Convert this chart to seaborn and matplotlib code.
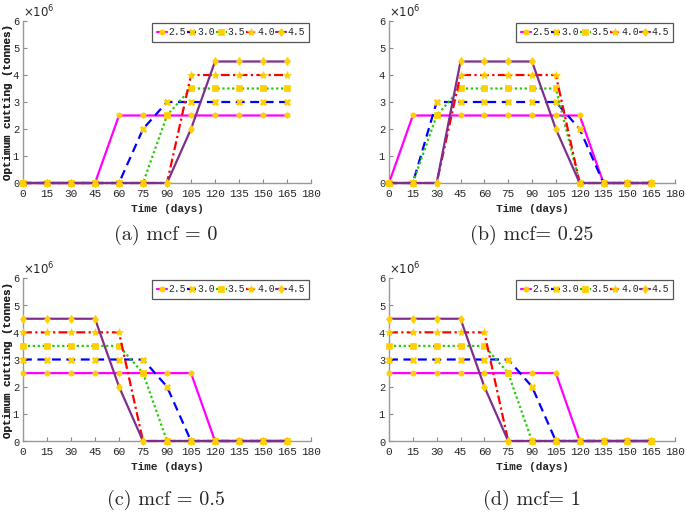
import numpy as np
import pandas as pd
import matplotlib
matplotlib.use("Agg")
import matplotlib.pyplot as plt
import seaborn as sns

# time axis (days) shared by every panel
days = [0, 15, 30, 45, 60, 75, 90, 105, 120, 135, 150, 165]
series_names = ["2.5", "3.0", "3.5", "4.0", "4.5"]

# optimum cutting, in millions of tonnes
mcf_0 = {
    "2.5": [0, 0, 0, 0, 2.5, 2.5, 2.5, 2.5, 2.5, 2.5, 2.5, 2.5],
    "3.0": [0, 0, 0, 0, 0, 2.0, 3.0, 3.0, 3.0, 3.0, 3.0, 3.0],
    "3.5": [0, 0, 0, 0, 0, 0, 2.5, 3.5, 3.5, 3.5, 3.5, 3.5],
    "4.0": [0, 0, 0, 0, 0, 0, 0, 4.0, 4.0, 4.0, 4.0, 4.0],
    "4.5": [0, 0, 0, 0, 0, 0, 0, 2.0, 4.5, 4.5, 4.5, 4.5],
}
mcf_025 = {
    "2.5": [0, 2.5, 2.5, 2.5, 2.5, 2.5, 2.5, 2.5, 2.5, 0, 0, 0],
    "3.0": [0, 0, 3.0, 3.0, 3.0, 3.0, 3.0, 3.0, 2.0, 0, 0, 0],
    "3.5": [0, 0, 2.5, 3.5, 3.5, 3.5, 3.5, 3.5, 0, 0, 0, 0],
    "4.0": [0, 0, 0, 4.0, 4.0, 4.0, 4.0, 4.0, 0, 0, 0, 0],
    "4.5": [0, 0, 0, 4.5, 4.5, 4.5, 4.5, 2.0, 0, 0, 0, 0],
}
mcf_05 = {
    "2.5": [2.5, 2.5, 2.5, 2.5, 2.5, 2.5, 2.5, 2.5, 0, 0, 0, 0],
    "3.0": [3.0, 3.0, 3.0, 3.0, 3.0, 3.0, 2.0, 0, 0, 0, 0, 0],
    "3.5": [3.5, 3.5, 3.5, 3.5, 3.5, 2.5, 0, 0, 0, 0, 0, 0],
    "4.0": [4.0, 4.0, 4.0, 4.0, 4.0, 0, 0, 0, 0, 0, 0, 0],
    "4.5": [4.5, 4.5, 4.5, 4.5, 2.0, 0, 0, 0, 0, 0, 0, 0],
}
mcf_1 = {
    "2.5": [2.5, 2.5, 2.5, 2.5, 2.5, 2.5, 2.5, 2.5, 0, 0, 0, 0],
    "3.0": [3.0, 3.0, 3.0, 3.0, 3.0, 3.0, 2.0, 0, 0, 0, 0, 0],
    "3.5": [3.5, 3.5, 3.5, 3.5, 3.5, 2.5, 0, 0, 0, 0, 0, 0],
    "4.0": [4.0, 4.0, 4.0, 4.0, 4.0, 0, 0, 0, 0, 0, 0, 0],
    "4.5": [4.5, 4.5, 4.5, 4.5, 2.0, 0, 0, 0, 0, 0, 0, 0],
}
panels = [mcf_0, mcf_025, mcf_05, mcf_1]
captions = ["(a) mcf = 0", "(b) mcf= 0.25", "(c) mcf = 0.5", "(d) mcf= 1"]

colors = {"2.5": "#ff00ff", "3.0": "#0000ff", "3.5": "#22cc00",
          "4.0": "#ff0000", "4.5": "#7e2f8e"}
styles = {"2.5": "-", "3.0": (0, (4, 2.5)), "3.5": (0, (1, 1.2)),
          "4.0": (0, (4, 1.5, 1, 1.5)), "4.5": "-"}
markers = {"2.5": "o", "3.0": "X", "3.5": "s", "4.0": "*", "4.5": "d"}
msizes = {"2.5": 3.8, "3.0": 4.5, "3.5": 3.8, "4.0": 6, "4.5": 4.5}
gold = "#ffd000"

sns.set_theme(style="ticks")
plt.rcParams["font.family"] = ["Liberation Mono", "DejaVu Sans"]

fig = plt.figure(figsize=(6.85, 5.13), dpi=100)
W, H = 685, 513
boxes = [(23, 21, 311, 183), (389, 21, 675, 183),
         (23, 278, 311, 441), (389, 278, 675, 441)]
cap_pos = [(166, 235), (532, 235), (166, 500), (532, 500)]

for data, box, cap, cpos in zip(panels, boxes, captions, cap_pos):
    x0, y0, x1, y1 = box
    ax = fig.add_axes([x0 / W, 1 - y1 / H, (x1 - x0) / W, (y1 - y0) / H])
    for name in series_names:
        df = pd.DataFrame({"Time": days, "Cut": np.array(data[name]) * 1e6})
        sns.lineplot(data=df, x="Time", y="Cut", ax=ax, color=colors[name],
                     linestyle=styles[name], linewidth=1.6, marker=markers[name],
                     markersize=msizes[name], markerfacecolor=gold,
                     markeredgecolor=gold, markeredgewidth=0.5,
                     label=name, clip_on=False, zorder=3)
    ax.set_xlim(0, 180)
    ax.set_ylim(0, 6e6)
    ax.set_xticks(range(0, 181, 15))
    ax.set_yticks(np.arange(0, 6.01e6, 1e6))
    ax.ticklabel_format(axis="y", style="sci", scilimits=(0, 0), useMathText=True)
    ax.yaxis.get_offset_text().set_fontsize(8.5)
    ax.yaxis.get_offset_text().set_fontfamily("DejaVu Sans")
    ax.tick_params(direction="in", length=3, width=0.8, color="#888888",
                   labelsize=8, pad=4)
    ax.tick_params(axis="y", labelsize=7.5, pad=2)
    for side in ["top", "right"]:
        ax.spines[side].set_visible(False)
    for side in ["left", "bottom"]:
        ax.spines[side].set_color("#999999")
        ax.spines[side].set_linewidth(1)
    ax.set_xlabel("Time (days)", fontsize=8, fontweight="bold", labelpad=4)
    ax.set_ylabel("Optimum cutting (tonnes)", fontsize=7.8, fontweight="bold")
    # right edge of the rotated label sits 13 px from the figure edge
    ax.yaxis.set_label_coords((13.2 - x0) / (x1 - x0), 0.5)
    leg = ax.legend(loc="upper right", ncol=5, fontsize=7, frameon=True,
                    fancybox=False, handlelength=1.05, handletextpad=0.1,
                    columnspacing=0.1, borderpad=0.45, borderaxespad=0.2,
                    edgecolor="#555555", framealpha=1)
    leg.get_frame().set_linewidth(0.9)
    fig.text(cpos[0] / W, 1 - cpos[1] / H, cap, ha="center", va="center",
             fontsize=14.5, family=["cmr10", "DejaVu Serif"])

fig.savefig("out.png", dpi=100)
